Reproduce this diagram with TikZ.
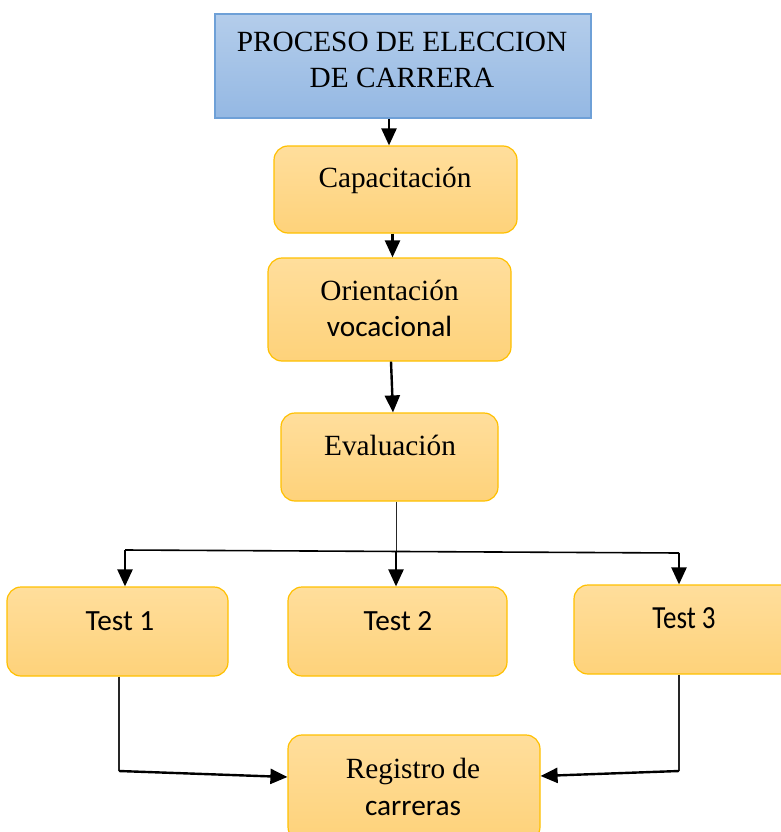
\documentclass[tikz,border=0pt]{standalone}
\usepackage{fontspec}
\setmainfont{Liberation Serif}
\newfontfamily\calib{Carlito}
\usetikzlibrary{arrows.meta}
\definecolor{bluetop}{RGB}{180,205,235}
\definecolor{bluebot}{RGB}{148,184,227}
\definecolor{blueline}{RGB}{110,160,215}
\definecolor{orgtop}{RGB}{255,222,156}
\definecolor{orgbot}{RGB}{254,210,122}
\definecolor{orgline}{RGB}{255,192,0}
\tikzset{
  bluebox/.style={draw=blueline, line width=1.2pt, top color=bluetop, bottom color=bluebot, inner sep=0pt},
  orgbox/.style={draw=orgline, line width=1.2pt, top color=orgtop, bottom color=orgbot, rounded corners=14pt, inner sep=0pt},
  txt/.style={anchor=base, inner sep=0pt, font=\fontsize{29.3}{36}\selectfont},
  arr/.style={line width=2.4pt, -{Triangle[length=17pt,width=15pt]}},
  plain/.style={line width=1pt, draw=black!85},
}
\begin{document}
\begin{tikzpicture}[x=1pt,y=-1pt]
\useasboundingbox (0,0) rectangle (781,832);
\clip (0,0) rectangle (781,832);
% boxes
\node[bluebox, minimum width=376pt, minimum height=104pt] (top) at (403,66) {};
\node[orgbox, minimum width=243pt, minimum height=87pt] (cap) at (395.5,189.5) {};
\node[orgbox, minimum width=243pt, minimum height=103pt] (ori) at (389.5,309.5) {};
\node[orgbox, minimum width=217pt, minimum height=88pt] (eva) at (389.5,457) {};
\node[orgbox, minimum width=221pt, minimum height=89pt] (t1) at (117.5,631.5) {};
\node[orgbox, minimum width=219pt, minimum height=89pt] (t2) at (397.5,631.5) {};
\node[orgbox, minimum width=221pt, minimum height=89pt] (t3) at (684.5,629.5) {};
\node[orgbox, minimum width=252pt, minimum height=106pt] (reg) at (414,788) {};
% texts
\node[txt] (topA) at (402,52) {PROCESO DE ELECCION};
\node[txt] (topB) at (402,88) {DE CARRERA};
\node[txt] (capT) at (395,187) {Capacitación};
\node[txt] (oriA) at (389.5,300) {Orientación};
\node[txt] (oriB) at (389.5,336) {\calib vocacional};
\node[txt] (evaT) at (390,455) {Evaluación};
\node[txt] (t1T) at (120,630) {\calib Test 1};
\node[txt] (t2T) at (398,630) {\calib Test 2};
\node[txt] (t3T) at (684,628) {\calib\scalebox{0.92}[1.1]{Test 3}};
\node[txt] (regA) at (413,778) {Registro de};
\node[txt] (regB) at (413,815) {\calib carreras};
% connectors
\draw[arr] ([xshift=-14pt]top.south) -- ([xshift=-6.5pt]cap.north);
\draw[arr] ([xshift=-3pt]cap.south) -- ([xshift=3pt]ori.north);
\draw[arr] ([xshift=1.5pt]ori.south) -- ([xshift=3.5pt]eva.north);
\coordinate (jc) at (396,551);
\coordinate (jl) at (125,550);
\coordinate (jr) at (679,553);
\draw[plain] (jc |- eva.south) -- (jc);
\draw[line width=1.6pt] (jl) -- (jr);
\draw[arr] (jl) -- (jl |- t1.north);
\draw[arr] (jc) -- (jc |- t2.north);
\draw[arr] (jr) -- (jr |- t3.north);
\coordinate (bl) at (119,771);
\coordinate (br) at (679,771);
\draw[line width=1.3pt, draw=black!85] (bl |- t1.south) -- (bl);
\draw[line width=1.3pt, draw=black!85] (br |- t3.south) -- (br);
\draw[arr] (bl) -- ([yshift=11pt]reg.west);
\draw[arr] (br) -- ([yshift=12pt]reg.east);
\end{tikzpicture}
\end{document}
